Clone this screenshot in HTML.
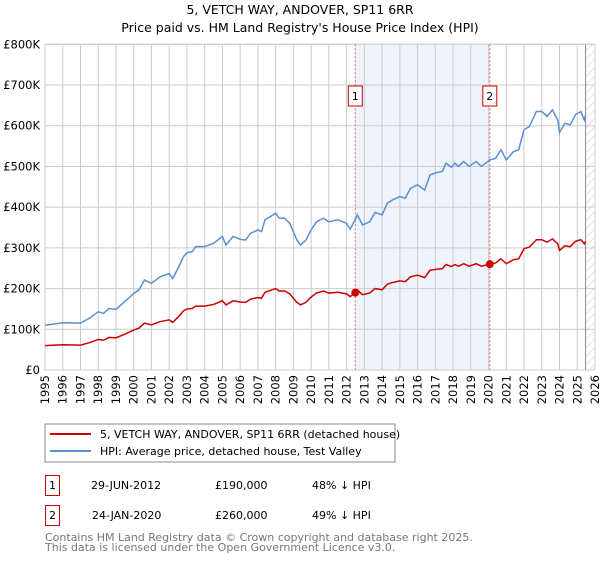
<!DOCTYPE html>
<html><head><meta charset="utf-8"><style>
body{margin:0;background:#fff;font-family:"DejaVu Sans","Liberation Sans",sans-serif;}
</style></head><body>
<svg id="c" width="600" height="560" xmlns="http://www.w3.org/2000/svg" font-family="DejaVu Sans, Liberation Sans, sans-serif">
<text x="300" y="14" text-anchor="middle" font-size="12.5">5, VETCH WAY, ANDOVER, SP11 6RR</text>
<text x="300" y="32" text-anchor="middle" font-size="12.5">Price paid vs. HM Land Registry's House Price Index (HPI)</text>
<defs><pattern id="hatch" width="6" height="6" patternUnits="userSpaceOnUse" patternTransform="rotate(45)"><line x1="0" y1="0" x2="0" y2="6" stroke="#ccc" stroke-width="1"/></pattern></defs>
<g id="plot"></g>
<rect x="45" y="424" width="350" height="38" fill="#fff" stroke="#888"/>
<line x1="50" y1="434" x2="91" y2="434" stroke="#cc0000" stroke-width="2"/>
<text x="100" y="438" font-size="11">5, VETCH WAY, ANDOVER, SP11 6RR (detached house)</text>
<line x1="50" y1="451" x2="91" y2="451" stroke="#5b8fd0" stroke-width="2"/>
<text x="100" y="455" font-size="11">HPI: Average price, detached house, Test Valley</text>
<g font-size="11">
<rect x="45.5" y="475.5" width="14" height="20" fill="#fff" stroke="#cc0000"/>
<text x="52.5" y="489" text-anchor="middle">1</text>
<text x="91" y="489">29-JUN-2012</text>
<text x="215" y="489">£190,000</text>
<text x="312" y="489">48% ↓ HPI</text>
<rect x="45.5" y="505.5" width="14" height="20" fill="#fff" stroke="#cc0000"/>
<text x="52.5" y="519" text-anchor="middle">2</text>
<text x="92" y="519">24-JAN-2020</text>
<text x="215" y="519">£260,000</text>
<text x="312" y="519">49% ↓ HPI</text>
</g>
<text x="45" y="541" font-size="11" fill="#777">Contains HM Land Registry data © Crown copyright and database right 2025.</text>
<text x="45" y="551" font-size="11" fill="#777">This data is licensed under the Open Government Licence v3.0.</text>
</svg>
<script>
const dates=[1995,1996,1997,1997.5,1998,1998.3,1998.6,1999,1999.5,2000,2000.3,2000.6,2001,2001.5,2002,2002.2,2002.5,2002.8,2003,2003.3,2003.5,2004,2004.5,2005,2005.2,2005.6,2006,2006.3,2006.6,2007,2007.2,2007.4,2008,2008.2,2008.5,2008.8,2009.2,2009.4,2009.7,2010,2010.3,2010.7,2011,2011.5,2012,2012.2,2012.49,2012.6,2012.9,2013.3,2013.6,2014,2014.3,2014.6,2015,2015.3,2015.6,2016,2016.4,2016.7,2017,2017.4,2017.6,2017.9,2018.1,2018.3,2018.6,2018.9,2019.3,2019.6,2020.07,2020.4,2020.7,2021,2021.4,2021.7,2022,2022.3,2022.7,2023,2023.3,2023.6,2023.9,2024,2024.3,2024.6,2024.9,2025.2,2025.4,2025.47];
const hpi=[110,116,115,127,143,139,151,149,168,188,197,221,213,229,237,225,250,278,288,291,303,303,311,328,307,328,321,319,336,344,340,369,385,373,373,360,319,307,319,344,364,373,364,369,360,346,370,381,356,364,387,381,410,418,426,422,446,455,442,479,484,488,508,498,508,500,512,500,512,500,516,520,541,516,536,541,590,598,635,635,623,639,614,583,606,602,627,635,614,627];
const property=[60,62,61,67,75,73,80,79,88,98,103,115,111,119,123,117,130,145,150,151,157,157,161,170,160,170,167,166,174,178,176,191,200,194,194,187,166,160,166,179,189,194,189,191,187,180,190,197,185,189,200,197,211,215,219,217,229,233,227,245,247,249,259,254,259,255,261,255,261,255,260,263,273,261,271,273,298,302,320,320,314,322,310,294,305,303,316,320,310,316];
const saleDates=[2012.49,2020.07];
const salePrices=[190,260];
const saleLabels=["1","2"];
const yTicks=[0,100,200,300,400,500,600,700,800];
const yTickLabels=["£0","£100K","£200K","£300K","£400K","£500K","£600K","£700K","£800K"];
const xTicks=[1995,1996,1997,1998,1999,2000,2001,2002,2003,2004,2005,2006,2007,2008,2009,2010,2011,2012,2013,2014,2015,2016,2017,2018,2019,2020,2021,2022,2023,2024,2025,2026];
const dataEnd=2025.47;
const X0=45,X1=595,Y0=370,Y1=44.3;
const xs=v=>X0+(v-1995)/(2026-1995)*(X1-X0);
const ys=v=>Y0-v/800*(Y0-Y1);
const NS="http://www.w3.org/2000/svg";
const g=document.getElementById('plot');
function mk(t,a){const e=document.createElementNS(NS,t);for(const k in a)e.setAttribute(k,a[k]);g.appendChild(e);return e;}
let band=mk('rect',{x:xs(saleDates[0]),y:Y1,width:xs(saleDates[1])-xs(saleDates[0]),height:Y0-Y1,fill:'#eef3fc'});


let hat=mk('rect',{x:xs(dataEnd),y:Y1,width:X1-xs(dataEnd),height:Y0-Y1,fill:'url(#hatch)'});


yTicks.forEach((t,i)=>{
 let l=mk('line',{x1:X0,x2:X1,y1:ys(t),y2:ys(t),stroke:'#ccc'});
 
 
 let tx=mk('text',{x:40,y:ys(t)+4,'text-anchor':'end','font-size':'11.5'});tx.textContent=yTickLabels[i];
 
 
});
xTicks.forEach(t=>{
 let l=mk('line',{x1:xs(t),x2:xs(t),y1:Y1,y2:Y0,stroke:'#ccc'});
 
 
 let tx=mk('text',{x:0,y:0,'font-size':'11.5','text-anchor':'end',transform:`translate(${xs(t)+4},375) rotate(-90)`});tx.textContent=t;
 
 
});
let el=mk('line',{x1:xs(dataEnd),x2:xs(dataEnd),y1:Y1,y2:Y0,stroke:'#888'});


let fr=mk('rect',{x:X0,y:Y1,width:X1-X0,height:Y0-Y1,fill:'none',stroke:'#ccc'});


saleDates.forEach((d,i)=>{
 let l=mk('line',{x1:xs(d),x2:xs(d),y1:Y1,y2:Y0,stroke:'#e06666','stroke-dasharray':'2,2'});
 
 
 let b=mk('rect',{x:xs(d)-7,y:86,width:14,height:20,fill:'#fff',stroke:'#cc0000'});
 
 
 let t=mk('text',{x:xs(d),y:100,'text-anchor':'middle','font-size':'11'});t.textContent=saleLabels[i];
 
 
});
let ph=mk('polyline',{points:dates.map((d,i)=>xs(d)+','+ys(hpi[i])).join(' '),fill:'none',stroke:'#5b8fd0','stroke-width':1.5});


let pp=mk('polyline',{points:dates.map((d,i)=>xs(d)+','+ys(property[i])).join(' '),fill:'none',stroke:'#cc0000','stroke-width':1.5});


saleDates.forEach((d,i)=>{
 let c=mk('circle',{cx:xs(d),cy:ys(salePrices[i]),r:4,fill:'#cc0000'});
 
 
});
</script>
</body></html>
